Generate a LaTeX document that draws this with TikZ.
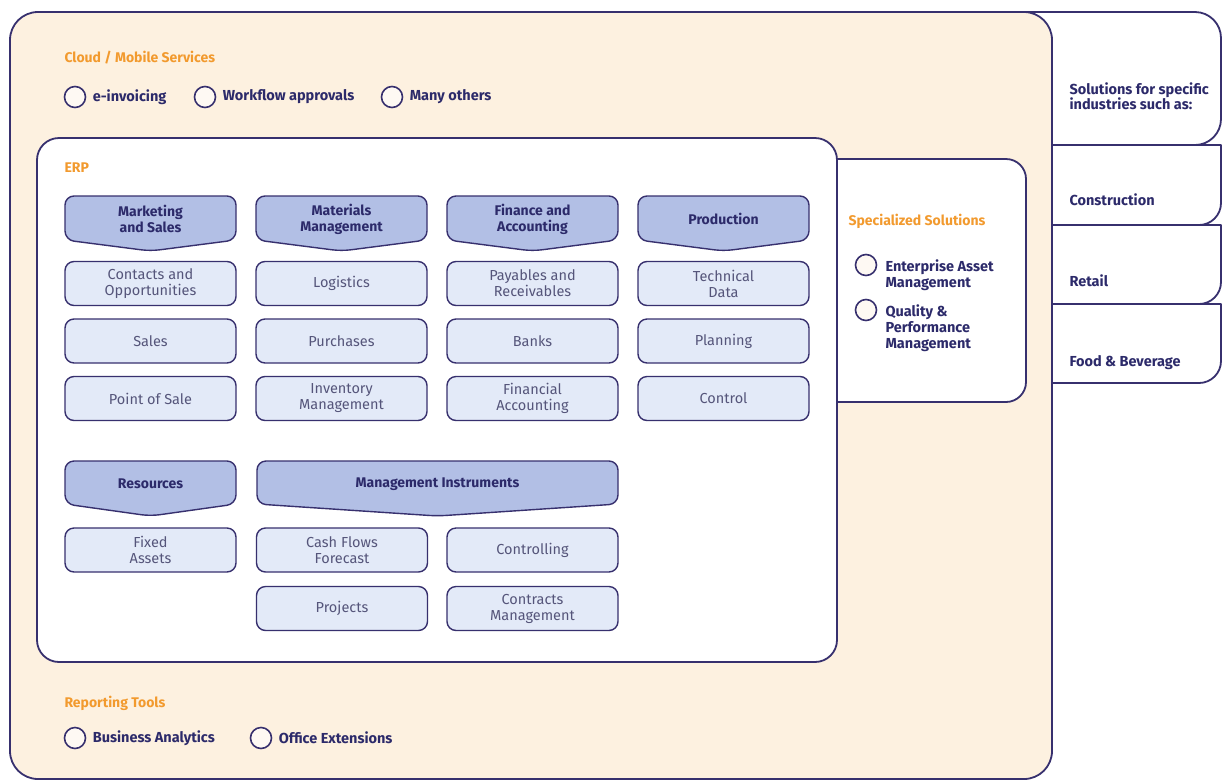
\documentclass[tikz,border=0pt]{standalone}
\usepackage{fontspec}
\setmainfont{Fira Sans}
\usepackage{xcolor}
\usepackage{tikz}
\usetikzlibrary{positioning}

\definecolor{navy}{HTML}{37306E}
\definecolor{navytext}{HTML}{2C2A6A}
\definecolor{peach}{HTML}{FDF1E0}
\definecolor{headblue}{HTML}{B2BFE5}
\definecolor{itemblue}{HTML}{E3EAF8}
\definecolor{itemtext}{HTML}{55557A}
\definecolor{titleorange}{HTML}{F29A2E}

\begin{document}
\begin{tikzpicture}[x=1pt,y=-1pt,line join=round,
    frame/.style={draw=navy, line width=1.8pt},
    head/.style={draw=navy, line width=1.4pt, fill=headblue, rounded corners=9pt},
    headtext/.style={align=center, text=navytext, font=\fontsize{14}{16}\selectfont\bfseries},
    item/.style={draw=navy, line width=1.4pt, fill=itemblue, rounded corners=9pt,
        minimum width=171pt, minimum height=44pt, align=center, inner sep=0pt,
        text=itemtext, font=\fontsize{14.5}{16}\selectfont},
    title/.style={anchor=west, text=titleorange, font=\fontsize{14}{16}\selectfont\bfseries},
    bullet/.style={circle, draw=navy, line width=1.6pt, fill=white!60!peach, minimum size=21pt, inner sep=0pt},
    opt/.style={anchor=west, align=left, text=navytext, font=\fontsize{14.5}{16}\selectfont\bfseries},
    tab/.style={anchor=west, align=left, text=navytext, font=\fontsize{14.5}{15}\selectfont\bfseries}]
    \useasboundingbox (0,0) rectangle (1223,780);

    % Industry tabs
    \draw[frame, fill=white, rounded corners=26pt] (1000,12) -- (1221,12) -- (1221,145) -- (1000,145);
    \draw[frame, fill=white] (1000,145) -- (1221,145) [rounded corners=22pt] -- (1221,225) -- (1000,225);
    \draw[frame, fill=white] (1000,225) -- (1221,225) [rounded corners=22pt] -- (1221,304) -- (1000,304);
    \draw[frame, fill=white] (1000,304) -- (1221,304) [rounded corners=22pt] -- (1221,383) -- (1000,383);
    \node[tab] (ind) at (1066,96) {Solutions for specific\\industries such as:};
    \node[tab] (constr) at (1066,200) {Construction};
    \node[tab] (retail) at (1066,281) {Retail};
    \node[tab] (food) at (1066,363) {Food \& Beverage};

    % Outer box
    \draw[frame, fill=peach, rounded corners=28pt] (10,12) rectangle (1052,779);

    % Cloud / Mobile services
    \node[title] (cloud) at (61,58) {Cloud / Mobile Services};
    \node[bullet] (b-einv) at (75,97) {};
    \node[opt, right=3pt of b-einv] (einv) {e-invoicing};
    \node[bullet] (b-flow) at (205,97) {};
    \node[opt, right=3pt of b-flow] (flow) {Workflow approvals};
    \node[bullet] (b-many) at (392,97) {};
    \node[opt, right=3pt of b-many] (many) {Many others};

    % Specialized solutions
    \draw[frame, fill=white, rounded corners=20pt] (800,159) rectangle (1026,402);
    \node[title] (spec) at (845,221) {Specialized Solutions};
    \node[bullet] (b-eam) at (866,265) {};
    \node[opt, anchor=north west] (eam) at (882,256) {Enterprise Asset\\Management};
    \node[bullet] (b-qpm) at (866,310) {};
    \node[opt, anchor=north west] (qpm) at (882,301) {Quality \&\\Performance\\Management};

    % ERP
    \draw[frame, fill=white, rounded corners=22pt] (37,138) rectangle (837,662);
    \node[title] (erp) at (61,168) {ERP};

    % Module headers
    \foreach \c/\name/\txt in {0/mkt/{Marketing\\and Sales},1/mat/{Materials\\Management},
                               2/fin/{Finance and\\Accounting},3/prod/{Production}} {
        \draw[head] (65+191*\c,196) -- ++(171,0) -- ++(0,44) -- ++(-85.5,11) -- ++(-85.5,-11) -- cycle;
        \node[headtext] (\name) at (150.5+191*\c,219) {\txt};
    }
    \draw[head] (65,461) -- ++(171,0) -- ++(0,43) -- ++(-85.5,12) -- ++(-85.5,-12) -- cycle;
    \node[headtext] (res) at (150.5,484) {Resources};
    \draw[head] (257,461) -- ++(361,0) -- ++(0,43) -- ++(-180.5,12) -- ++(-180.5,-12) -- cycle;
    \node[headtext] (mgmt) at (437.5,484) {Management Instruments};

    % Module items
    \foreach \c/\r/\name/\txt in {0/0/contacts/{Contacts and\\Opportunities},0/1/sales/Sales,0/2/pos/{Point of Sale},
                                  1/0/logistics/Logistics,1/1/purch/Purchases,1/2/inv/{Inventory\\Management},
                                  2/0/payrec/{Payables and\\Receivables},2/1/banks/Banks,2/2/finacc/{Financial\\Accounting},
                                  3/0/techdata/{Technical\\Data},3/1/planning/Planning,3/2/control/Control} {
        \node[item] (\name) at (150.5+191*\c,283.5+57.5*\r) {\txt};
    }
    \node[item] (fixed) at (150.5,550) {Fixed\\Assets};
    \node[item] (cash) at (342,550) {Cash Flows\\Forecast};
    \node[item] (ctrl) at (532.5,550) {Controlling};
    \node[item] (proj) at (342,608.5) {Projects};
    \node[item] (contracts) at (532.5,608.5) {Contracts\\Management};

    % Reporting tools
    \node[title] (report) at (61,703) {Reporting Tools};
    \node[bullet] (b-bi) at (75,738) {};
    \node[opt, right=3pt of b-bi] (bi) {Business Analytics};
    \node[bullet] (b-office) at (261,738) {};
    \node[opt, right=3pt of b-office] (office) {Office Extensions};
\end{tikzpicture}
\end{document}
